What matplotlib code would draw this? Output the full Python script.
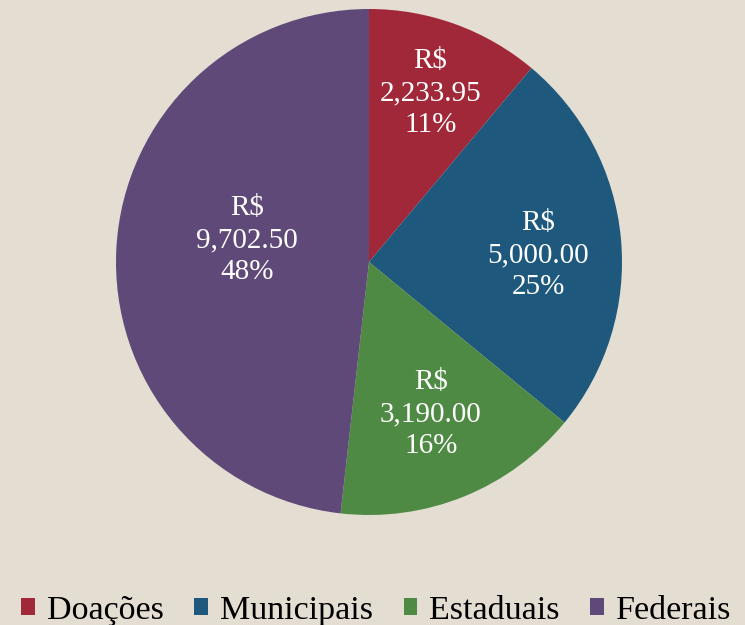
import numpy as np
import matplotlib.pyplot as plt
from matplotlib.patches import Patch

# ── data ──────────────────────────────────────────────────────────────────────
categories = ["Doações", "Municipais", "Estaduais", "Federais"]
values = [2233.95, 5000.00, 3190.00, 9702.50]

# ── style ─────────────────────────────────────────────────────────────────────
CLR_BG = "#E3DDD2"
colors = ["#A12839", "#1E597D", "#4F8A44", "#5F4978"]
label_dist = [0.71, 0.67, 0.65, 0.49]
label_turn = [0, -3, 0, -7]   # degrees, nudges label off the wedge bisector

plt.rcParams["font.family"] = ["Liberation Serif", "DejaVu Serif"]

fig = plt.figure(figsize=(7.45, 6.25), dpi=100, facecolor=CLR_BG)
ax = fig.add_axes([(369 - 253) / 745, 1 - (262 + 253) / 625, 506 / 745, 506 / 625])
ax.set_facecolor(CLR_BG)

wedges, _ = ax.pie(values, colors=colors, startangle=90, counterclock=False,
                   radius=1.0, wedgeprops=dict(linewidth=0))
ax.set_xlim(-1, 1)
ax.set_ylim(-1, 1)
ax.set_aspect("equal")

total = sum(values)
for w, v, d, t in zip(wedges, values, label_dist, label_turn):
    ang = np.deg2rad((w.theta1 + w.theta2) / 2 + t)
    x, y = d * np.cos(ang), d * np.sin(ang)
    txt = f"R$\n{v:,.2f}\n{v / total * 100:.0f}%"
    ax.text(x, y, txt, ha="center", va="center", color="white",
            fontsize=21, linespacing=1.3)

handles = [Patch(facecolor=c, edgecolor="none") for c in colors]
fig.legend(handles, categories, loc="lower center", ncol=4, frameon=False,
           fontsize=24.5, handlelength=0.4, handleheight=0.4, handletextpad=0.35,
           columnspacing=0.9, bbox_to_anchor=(0.505, -0.05))

fig.savefig("out.png", dpi=100, facecolor=CLR_BG)
